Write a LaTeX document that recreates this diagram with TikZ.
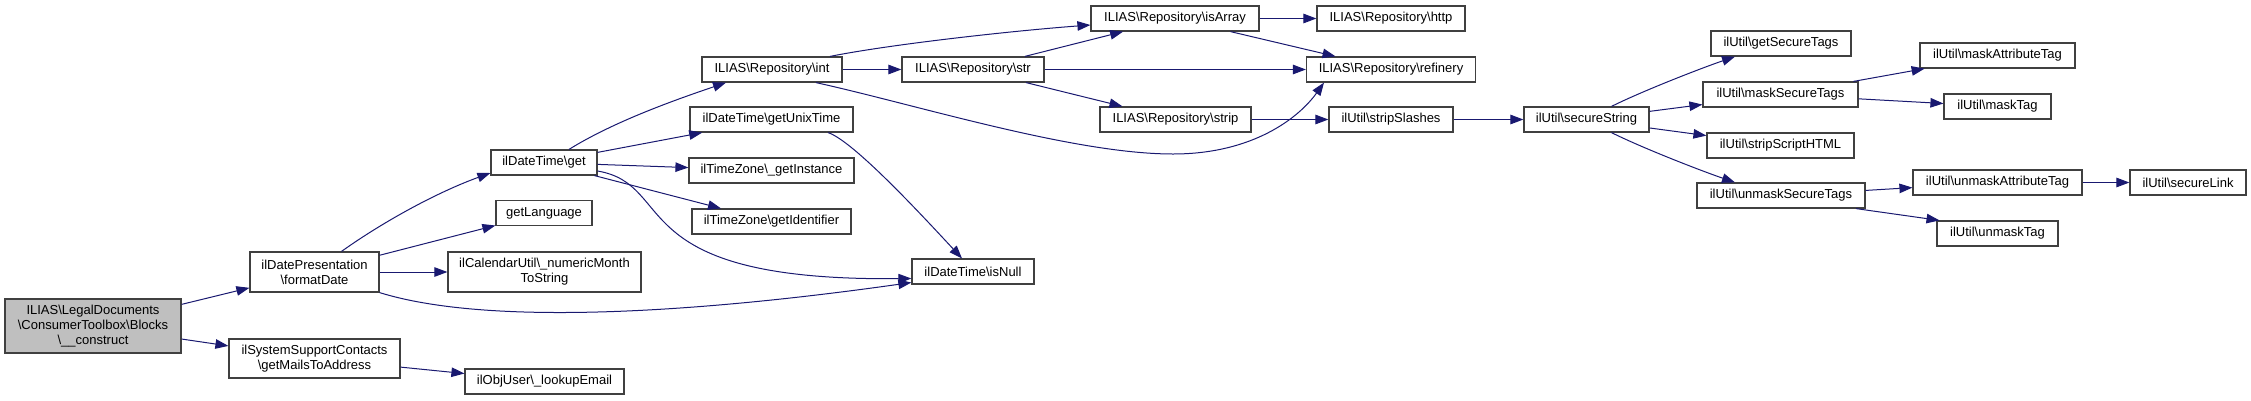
\documentclass[tikz,border=0pt]{standalone}
\usepackage{fontspec}
\setmainfont{Liberation Sans}
\usetikzlibrary{arrows.meta}
\definecolor{boxborder}{HTML}{404040}
\definecolor{edgeblue}{HTML}{191970}
\definecolor{rootgray}{HTML}{BFBFBF}
\newcommand{\bsl}{\textbackslash}
\begin{document}
\begin{tikzpicture}[x=1pt,y=-1pt,
  box/.style={draw=boxborder, line width=1.2pt, fill=white, inner sep=0pt, align=center,
    minimum height=25pt, font=\fontsize{13}{15}\selectfont},
  edge/.style={draw=edgeblue, line width=1pt, -{Triangle[length=13pt,width=9.5pt]}}]
\useasboundingbox (0,0) rectangle (2251,400);
% column 0
\node[box, fill=rootgray, minimum width=176pt, minimum height=54pt] (construct) at (93,326)
  {ILIAS\bsl LegalDocuments\\\bsl ConsumerToolbox\bsl Blocks\\\bsl\_\_construct};
% column 1
\node[box, minimum width=129pt, minimum height=40pt] (formatDate) at (314.5,272) {ilDatePresentation\\\bsl formatDate};
\node[box, minimum width=171pt, minimum height=39pt] (getMails) at (314.5,358.5) {ilSystemSupportContacts\\\bsl getMailsToAddress};
% column 2
\node[box, minimum width=106pt] (get) at (544,162.5) {ilDateTime\bsl get};
\node[box, minimum width=96pt] (getLanguage) at (544,213) {getLanguage};
\node[box, minimum width=193pt, minimum height=40pt] (numericMonth) at (544.5,272) {ilCalendarUtil\bsl\_numericMonth\\ToString};
\node[box, minimum width=159pt] (lookupEmail) at (544.5,381.5) {ilObjUser\bsl\_lookupEmail};
% column 3
\node[box, minimum width=140pt] (int) at (772,69.5) {ILIAS\bsl Repository\bsl int};
\node[box, minimum width=163pt] (getUnixTime) at (771.5,119.5) {ilDateTime\bsl getUnixTime};
\node[box, minimum width=165pt] (getInstance) at (771.5,170.5) {ilTimeZone\bsl\_getInstance};
\node[box, minimum width=159pt] (getIdentifier) at (771.5,221.5) {ilTimeZone\bsl getIdentifier};
% column 4
\node[box, minimum width=142pt] (str) at (973,69.5) {ILIAS\bsl Repository\bsl str};
\node[box, minimum width=122pt] (isNull) at (973,271.5) {ilDateTime\bsl isNull};
% column 5
\node[box, minimum width=168pt] (isArray) at (1175,18.5) {ILIAS\bsl Repository\bsl isArray};
\node[box, minimum width=151pt] (strip) at (1175.5,119.5) {ILIAS\bsl Repository\bsl strip};
% column 6
\node[box, minimum width=148pt] (http) at (1391,18.5) {ILIAS\bsl Repository\bsl http};
\node[box, minimum width=169pt] (refinery) at (1391,69.5) {ILIAS\bsl Repository\bsl refinery};
\node[box, minimum width=124pt] (stripSlashes) at (1391,119.5) {ilUtil\bsl stripSlashes};
% column 7
\node[box, minimum width=125pt] (secureString) at (1586.5,119.5) {ilUtil\bsl secureString};
% column 8
\node[box, minimum width=140pt] (getSecureTags) at (1781,43.5) {ilUtil\bsl getSecureTags};
\node[box, minimum width=155pt] (maskSecureTags) at (1780.5,94.5) {ilUtil\bsl maskSecureTags};
\node[box, minimum width=147pt] (stripScriptHTML) at (1780.5,145.5) {ilUtil\bsl stripScriptHTML};
\node[box, minimum width=168pt] (unmaskSecureTags) at (1781,195.5) {ilUtil\bsl unmaskSecureTags};
% column 9
\node[box, minimum width=155pt] (maskAttributeTag) at (1997.5,55.5) {ilUtil\bsl maskAttributeTag};
\node[box, minimum width=107pt] (maskTag) at (1997.5,106.5) {ilUtil\bsl maskTag};
\node[box, minimum width=169pt] (unmaskAttributeTag) at (1997.5,182.5) {ilUtil\bsl unmaskAttributeTag};
\node[box, minimum width=121pt] (unmaskTag) at (1997.5,233.5) {ilUtil\bsl unmaskTag};
% column 10
\node[box, minimum width=116pt] (secureLink) at (2188,182.5) {ilUtil\bsl secureLink};

% edges
\draw[edge] (construct) -- (formatDate);
\draw[edge] (construct) -- (getMails);
\draw[edge] (getMails) -- (lookupEmail);
\draw[edge] ([xshift=27pt]formatDate.north) .. controls +(45,-32) and +(-50,18) .. ([yshift=-10.5pt]get.west);
\draw[edge] (formatDate) -- (getLanguage);
\draw[edge] (formatDate) -- (numericMonth);
\draw[edge] (formatDate.south east) .. controls +(110,34) and +(-212,30) .. ([yshift=-11pt]isNull.west);
\draw[edge] ([xshift=25pt]get.north) .. controls +(45,-28) and +(-50,17) .. ([xshift=-46pt]int.south);
\draw[edge] (get) -- (getUnixTime);
\draw[edge] (get) -- (getInstance);
\draw[edge] (get) -- (getIdentifier);
\draw[edge] ([yshift=-8.5pt]get.east) .. controls +(81,14) and +(-292,3) .. ([yshift=-7pt]isNull.west);
\draw[edge] ([xshift=56.5pt]getUnixTime.south) .. controls +(25,8) and +(-40,-43) .. ([xshift=-11pt]isNull.north);
\draw[edge] ([xshift=58pt]int.north) .. controls +(60,-12) and +(-80,6) .. ([yshift=-6.5pt]isArray.west);
\draw[edge] (int) -- (str);
\draw[edge] ([xshift=44pt]int.south) .. controls +(100,22) and +(-100,0) .. (1173,154)
   .. controls +(80,0) and +(-25,35) .. ([xshift=-67pt]refinery.south);
\draw[edge] (str) -- (isArray);
\draw[edge] (str) -- (refinery);
\draw[edge] (str) -- (strip);
\draw[edge] (isArray) -- (http);
\draw[edge] (isArray) -- (refinery);
\draw[edge] (strip) -- (stripSlashes);
\draw[edge] (stripSlashes) -- (secureString);
\draw[edge] ([xshift=25pt]secureString.north) .. controls +(30,-15) and +(-35,12) .. ([xshift=-46pt]getSecureTags.south);
\draw[edge] (secureString) -- (maskSecureTags);
\draw[edge] (secureString) -- (stripScriptHTML);
\draw[edge] ([xshift=25pt]secureString.south) .. controls +(30,15) and +(-35,-12) .. ([xshift=-46pt]unmaskSecureTags.north);
\draw[edge] (maskSecureTags) -- (maskAttributeTag);
\draw[edge] (maskSecureTags) -- (maskTag);
\draw[edge] (unmaskSecureTags) -- (unmaskAttributeTag);
\draw[edge] ([xshift=75pt]unmaskSecureTags.south) -- ([xshift=-58pt]unmaskTag.north);
\draw[edge] (unmaskAttributeTag) -- (secureLink);
\end{tikzpicture}
\end{document}
